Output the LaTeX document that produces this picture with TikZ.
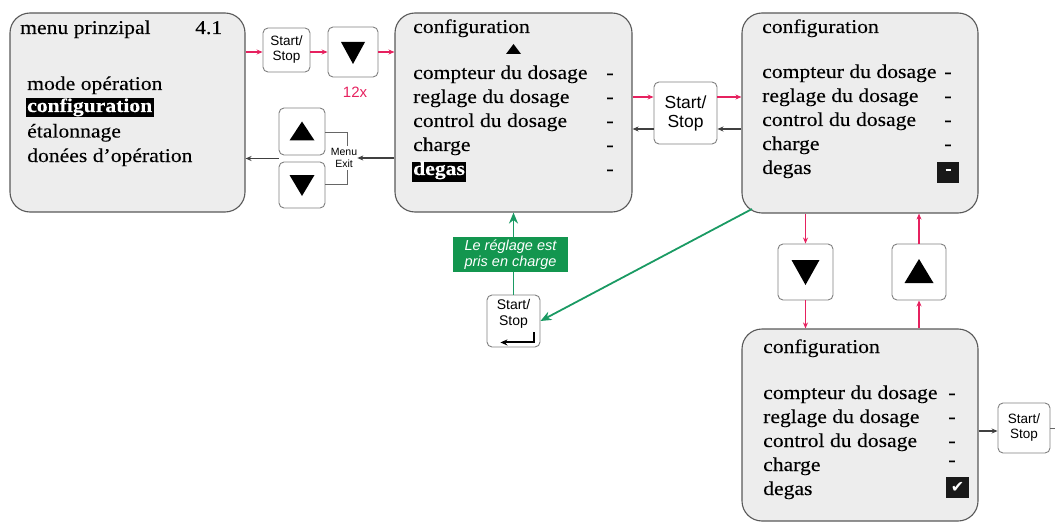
\documentclass[tikz,border=0pt]{standalone}
\usepackage{fontspec}
\setmainfont{Liberation Serif}[FakeStretch=1.11, FakeBold=0.15]
\setsansfont{Liberation Sans}
\newfontfamily\symfont{DejaVu Sans}
\usetikzlibrary{arrows.meta,calc}
\definecolor{pinkc}{HTML}{E6215F}
\definecolor{greenc}{HTML}{1A9A63}
\definecolor{greenlbl}{HTML}{13964F}
\begin{document}
\begin{tikzpicture}[x=1pt,y=-1pt,
  bigbox/.style={draw=black!65, line width=1.1pt, fill=black!7, rounded corners=20pt},
  btn/.style={draw=black!50, line width=0.9pt, fill=white, rounded corners=5pt},
  mtxt/.style={font=\fontsize{19.5}{22}\selectfont, inner sep=0pt, anchor=base west},
  btxt/.style={font=\fontsize{19.5}{22}\selectfont\bfseries, inner sep=0pt, inner xsep=1.5pt, anchor=base west, fill=black, text=white},
  dsh/.style={font=\fontsize{19.5}{22}\selectfont, inner sep=0pt, anchor=base},
  parr/.style={draw=pinkc, line width=1.5pt, -{Stealth[length=6pt,width=5pt]}},
  karr/.style={draw=black!75, line width=1.2pt, -{Stealth[length=6pt,width=5pt]}},
  kline/.style={draw=black!60, line width=0.9pt},
  garr/.style={draw=greenc, line width=1.8pt, -{Stealth[length=11pt,width=9pt]}},
  gline/.style={draw=greenc, line width=1.8pt},
]
\useasboundingbox (0,0) rectangle (1055,524);

% big boxes
\node[bigbox, minimum width=235pt, minimum height=199pt] (b1) at (127.5,112.5) {};
\node[bigbox, minimum width=237pt, minimum height=199pt] (b2) at (513.5,112.5) {};
\node[bigbox, minimum width=236pt, minimum height=200pt] (b3) at (860,113) {};
\node[bigbox, minimum width=236pt, minimum height=192pt] (b4) at (860,425) {};

% box 1 text
\node[mtxt] (b1t) at (20,34) {menu prinzipal};
\node[mtxt] (b1n) at (195,34) {4.1};
\node[mtxt] (b1a) at (27,90) {mode opération};
\node[btxt, text height=14pt, text depth=5pt] (b1b) at (25.5,112) {configuration};
\node[mtxt] (b1c) at (27,137.5) {étalonnage};
\node[mtxt] (b1d) at (27,162) {donées d'opération};

% box 2 text
\node[mtxt] (b2t) at (413,33) {configuration};
\fill (506,54) -- (521,54) -- (513.5,44) -- cycle;
\node[mtxt] (b2a) at (413,79) {compteur du dosage};
\node[mtxt] (b2b) at (413,103) {reglage du dosage};
\node[mtxt] (b2c) at (413,127) {control du dosage};
\node[mtxt] (b2d) at (413,151) {charge};
\node[btxt, text height=12.5pt, text depth=6.5pt] (b2e) at (411.5,175) {degas};
\node[dsh] (b2da) at (610,79) {-};
\node[dsh] (b2db) at (610,103) {-};
\node[dsh] (b2dc) at (610,127) {-};
\node[dsh] (b2dd) at (610,151) {-};
\node[dsh] (b2de) at (610,175) {-};

% box 3 text
\node[mtxt] (b3t) at (762,33) {configuration};
\node[mtxt] (b3a) at (762,78) {compteur du dosage};
\node[mtxt] (b3b) at (762,102) {reglage du dosage};
\node[mtxt] (b3c) at (762,126) {control du dosage};
\node[mtxt] (b3d) at (762,150) {charge};
\node[mtxt] (b3e) at (762,174) {degas};
\node[dsh] (b3da) at (948,78) {-};
\node[dsh] (b3db) at (948,102) {-};
\node[dsh] (b3dc) at (948,126) {-};
\node[dsh] (b3dd) at (948,150) {-};
\node[fill=black!90, minimum width=22pt, minimum height=21pt, inner sep=0pt] (b3sq) at (948,172.5) {};
\draw[white, line width=1.8pt] (945.5,170) -- (950.5,170);

% box 4 text
\node[mtxt] (b4t) at (763,353) {configuration};
\node[mtxt] (b4a) at (763,399) {compteur du dosage};
\node[mtxt] (b4b) at (763,423) {reglage du dosage};
\node[mtxt] (b4c) at (763,447) {control du dosage};
\node[mtxt] (b4d) at (763,471) {charge};
\node[mtxt] (b4e) at (763,495) {degas};
\node[dsh] (b4da) at (952,399) {-};
\node[dsh] (b4db) at (952,423) {-};
\node[dsh] (b4dc) at (952,447) {-};
\node[dsh] (b4dd) at (952,466) {-};
\node[fill=black!90, text=white, minimum width=23pt, minimum height=21pt, inner sep=0pt, font=\symfont\fontsize{16}{16}\selectfont] (b4ck) at (957.5,487.5) {✔};

% buttons
\node[btn, minimum width=47pt, minimum height=44pt, align=center, font=\sffamily\fontsize{13.5}{15}\selectfont] (ss1) at (286.5,50) {Start/\\Stop};
\node[btn, minimum width=50pt, minimum height=50pt] (dn1) at (353,52) {};
\fill ([shift={(-12,-10)}]dn1.center) -- ([shift={(12,-10)}]dn1.center) -- ([shift={(0,12)}]dn1.center) -- cycle;
\node[font=\sffamily\fontsize{15}{16}\selectfont, text=pinkc, inner sep=0pt] (n12) at (355,92) {12x};

\node[btn, minimum width=46pt, minimum height=47pt] (up2) at (302,131.5) {};
\fill ([shift={(-12.5,9)}]up2.center) -- ([shift={(12.5,9)}]up2.center) -- ([shift={(0,-10)}]up2.center) -- cycle;
\node[btn, minimum width=46pt, minimum height=46pt] (dn2) at (302,185) {};
\fill ([shift={(-12.5,-10)}]dn2.center) -- ([shift={(12.5,-10)}]dn2.center) -- ([shift={(0,11)}]dn2.center) -- cycle;
\node[font=\sffamily\fontsize{10.5}{12}\selectfont, align=center, inner sep=0pt] (menu) at (344,157.5) {Menu\\Exit};

\node[btn, minimum width=63pt, minimum height=62pt, align=center, font=\sffamily\fontsize{17.5}{19}\selectfont] (ss2) at (685.5,113) {Start/\\Stop};

\node[btn, minimum width=55pt, minimum height=56pt] (dn3) at (805.5,272) {};
\fill ([shift={(-14,-12)}]dn3.center) -- ([shift={(14,-12)}]dn3.center) -- ([shift={(0,13)}]dn3.center) -- cycle;
\node[btn, minimum width=54pt, minimum height=56pt] (up3) at (919,272) {};
\fill ([shift={(-14.5,11)}]up3.center) -- ([shift={(14.5,11)}]up3.center) -- ([shift={(0,-13)}]up3.center) -- cycle;

\node[btn, minimum width=53pt, minimum height=52pt] (ss3) at (513.5,321) {};
\node[font=\sffamily\fontsize{14}{16}\selectfont, align=center, inner sep=0pt] (ss3t) at (513.5,314) {Start/\\Stop};
\draw[line width=2pt, -{Stealth[length=7pt,width=6pt]}] ($(ss3.south east)+(-6,-15)$) -- ($(ss3.south east)+(-6,-5)$) -- ($(ss3.south east)+(-40,-5)$);

\node[btn, minimum width=52pt, minimum height=50pt, align=center, font=\sffamily\fontsize{13.5}{15}\selectfont] (ss4) at (1024,428) {Start/\\Stop};

% green label
\node[fill=greenlbl, text=white, minimum width=115pt, minimum height=35pt, inner sep=0pt, align=center, font=\sffamily\itshape\fontsize{14.5}{15.5}\selectfont] (lbl) at (510.5,254.5) {Le réglage est\\pris en charge};

% pink arrows
\draw[parr] (b1.east |- 0,52) -- (ss1.west |- 0,52);
\draw[parr] (ss1.east |- 0,52) -- (dn1.west |- 0,52);
\draw[parr] (dn1.east |- 0,52) -- (b2.west |- 0,52);
\draw[parr] (b2.east |- 0,97) -- (ss2.west |- 0,97);
\draw[parr] (ss2.east |- 0,97) -- (b3.west |- 0,97);
\draw[parr] (b3.south -| dn3.north) -- (dn3.north);
\draw[parr] (dn3.south) -- (b4.north -| dn3.south);
\draw[parr] (b4.north -| up3.south) -- (up3.south);
\draw[parr] (up3.north) -- (b3.south -| up3.north);

% black arrows
\draw[karr] (ss2.west |- 0,129) -- (b2.east |- 0,129);
\draw[karr] (b3.west |- 0,129) -- (ss2.east |- 0,129);
\draw[karr] (b2.west |- 0,158) -- (menu.east |- 0,158);
\draw[karr] (up2.west |- 0,158.5) -- (b1.east |- 0,158.5);
\draw[kline] (up2.east |- 0,132) -- (347,132) -- (347,146);
\draw[kline] (347,170) -- (347,184) -- (dn2.east |- 0,184);
\draw[karr] (b4.east |- 0,431) -- (ss4.west |- 0,431);
\coordinate (redge) at (1055,428);
\draw[kline] (ss4.east) -- (redge);

% green arrows
\coordinate (g0) at (752,209);
\draw[garr] (g0) -- (ss3.east);
\draw[gline] (ss3.north) -- (lbl.south -| ss3.north);
\draw[garr] (lbl.north -| ss3.north) -- (b2.south -| ss3.north);
\end{tikzpicture}
\end{document}
